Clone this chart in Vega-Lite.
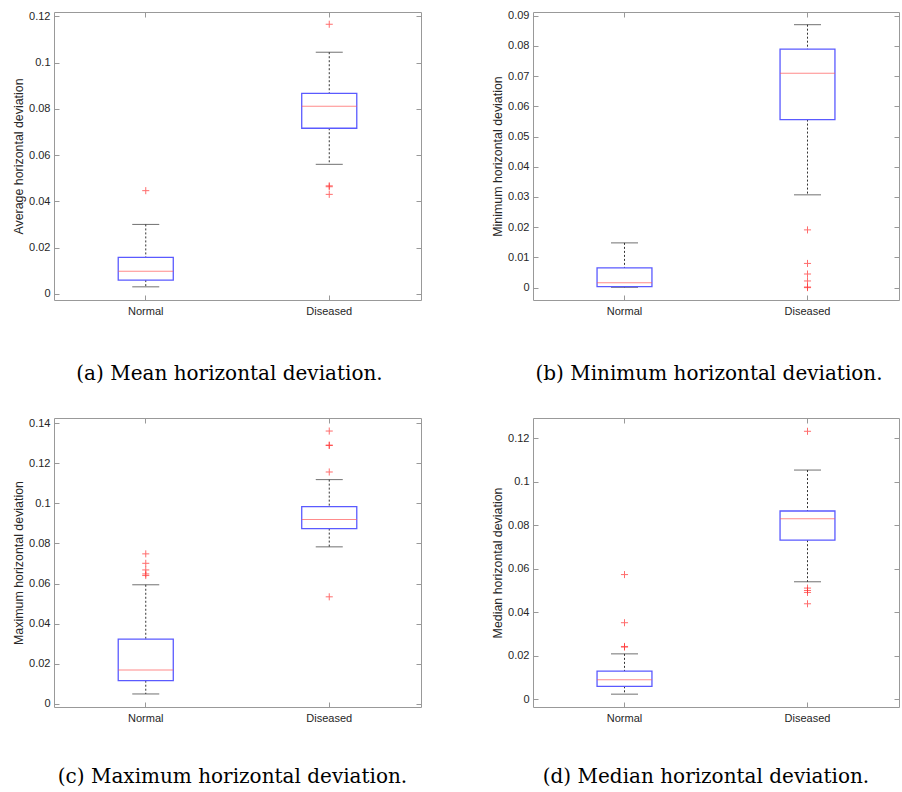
{
  "$schema": "https://vega.github.io/schema/vega-lite/v6.json",
  "padding": {"left": 12, "top": 9, "right": 0, "bottom": 0},
  "datasets": {
    "boxes": [
      {"panel": "a", "group": "Normal", "lw": 0.003, "q1": 0.0059, "med": 0.0097, "q3": 0.0157, "uw": 0.030},
      {"panel": "a", "group": "Diseased", "lw": 0.056, "q1": 0.0716, "med": 0.0811, "q3": 0.0867, "uw": 0.1045},
      {"panel": "b", "group": "Normal", "lw": 0.0001, "q1": 0.0003, "med": 0.0016, "q3": 0.0065, "uw": 0.0148},
      {"panel": "b", "group": "Diseased", "lw": 0.0307, "q1": 0.0556, "med": 0.0709, "q3": 0.0789, "uw": 0.087},
      {"panel": "c", "group": "Normal", "lw": 0.005, "q1": 0.0116, "med": 0.0169, "q3": 0.0323, "uw": 0.0594},
      {"panel": "c", "group": "Diseased", "lw": 0.0783, "q1": 0.0874, "med": 0.0919, "q3": 0.0983, "uw": 0.1118},
      {"panel": "d", "group": "Normal", "lw": 0.0024, "q1": 0.006, "med": 0.009, "q3": 0.013, "uw": 0.0209},
      {"panel": "d", "group": "Diseased", "lw": 0.054, "q1": 0.0731, "med": 0.0829, "q3": 0.0865, "uw": 0.1053}
    ],
    "outliers": [
      {"panel": "a", "group": "Normal", "v": 0.0446},
      {"panel": "a", "group": "Diseased", "v": 0.1166},
      {"panel": "a", "group": "Diseased", "v": 0.0467},
      {"panel": "a", "group": "Diseased", "v": 0.0463},
      {"panel": "a", "group": "Diseased", "v": 0.043},
      {"panel": "b", "group": "Diseased", "v": 0.0191},
      {"panel": "b", "group": "Diseased", "v": 0.008},
      {"panel": "b", "group": "Diseased", "v": 0.0045},
      {"panel": "b", "group": "Diseased", "v": 0.0022},
      {"panel": "b", "group": "Diseased", "v": 0.0002},
      {"panel": "b", "group": "Diseased", "v": 0.0},
      {"panel": "c", "group": "Normal", "v": 0.0748},
      {"panel": "c", "group": "Normal", "v": 0.0701},
      {"panel": "c", "group": "Normal", "v": 0.0668},
      {"panel": "c", "group": "Normal", "v": 0.0648},
      {"panel": "c", "group": "Normal", "v": 0.064},
      {"panel": "c", "group": "Diseased", "v": 0.136},
      {"panel": "c", "group": "Diseased", "v": 0.129},
      {"panel": "c", "group": "Diseased", "v": 0.1288},
      {"panel": "c", "group": "Diseased", "v": 0.1156},
      {"panel": "c", "group": "Diseased", "v": 0.0534},
      {"panel": "d", "group": "Normal", "v": 0.0573},
      {"panel": "d", "group": "Normal", "v": 0.0352},
      {"panel": "d", "group": "Normal", "v": 0.0243},
      {"panel": "d", "group": "Normal", "v": 0.024},
      {"panel": "d", "group": "Diseased", "v": 0.1231},
      {"panel": "d", "group": "Diseased", "v": 0.0511},
      {"panel": "d", "group": "Diseased", "v": 0.050},
      {"panel": "d", "group": "Diseased", "v": 0.0491},
      {"panel": "d", "group": "Diseased", "v": 0.0439}
    ]
  },
  "vconcat": [
    {
      "hconcat": [
        {
          "width": 367, "height": 288,
          "title": {"text": "(a) Mean horizontal deviation.", "dx": -8},
          "resolve": {"axis": {"x": "independent", "y": "independent"}},
          "layer": [
            {
              "data": {"name": "boxes"},
              "transform": [{"filter": "datum.panel == 'a'"}],
              "encoding": {"x": {"field": "group", "type": "nominal", "scale": {"domain": ["Normal", "Diseased"], "paddingInner": 0.7, "paddingOuter": 0.35}, "axis": {"title": null}}},
              "layer": [
                {"mark": {"type": "rule", "strokeDash": [2, 2], "color": "#333333", "strokeWidth": 1}, "encoding": {"y": {"field": "uw", "type": "quantitative", "scale": {"domain": [-0.0027, 0.1219], "nice": false, "zero": false}, "axis": {"title": "Average horizontal deviation", "values": [0, 0.02, 0.04, 0.06, 0.08, 0.1, 0.12], "format": ".2~f"}}, "y2": {"field": "q3"}}},
                {"mark": {"type": "rule", "strokeDash": [2, 2], "color": "#333333", "strokeWidth": 1}, "encoding": {"y": {"field": "q1", "type": "quantitative", "scale": {"domain": [-0.0027, 0.1219], "nice": false, "zero": false}, "axis": {"title": "Average horizontal deviation", "values": [0, 0.02, 0.04, 0.06, 0.08, 0.1, 0.12], "format": ".2~f"}}, "y2": {"field": "lw"}}},
                {"mark": {"type": "tick", "size": 27, "thickness": 1, "color": "#333333"}, "encoding": {"y": {"field": "uw", "type": "quantitative", "scale": {"domain": [-0.0027, 0.1219], "nice": false, "zero": false}, "axis": {"title": "Average horizontal deviation", "values": [0, 0.02, 0.04, 0.06, 0.08, 0.1, 0.12], "format": ".2~f"}}}},
                {"mark": {"type": "tick", "size": 27, "thickness": 1, "color": "#333333"}, "encoding": {"y": {"field": "lw", "type": "quantitative", "scale": {"domain": [-0.0027, 0.1219], "nice": false, "zero": false}, "axis": {"title": "Average horizontal deviation", "values": [0, 0.02, 0.04, 0.06, 0.08, 0.1, 0.12], "format": ".2~f"}}}},
                {"mark": {"type": "bar", "fill": "transparent", "stroke": "#5a5aff", "strokeWidth": 1.3}, "encoding": {"y": {"field": "q1", "type": "quantitative", "scale": {"domain": [-0.0027, 0.1219], "nice": false, "zero": false}, "axis": {"title": "Average horizontal deviation", "values": [0, 0.02, 0.04, 0.06, 0.08, 0.1, 0.12], "format": ".2~f"}}, "y2": {"field": "q3"}}},
                {"mark": {"type": "tick", "size": 55, "thickness": 1, "color": "#ff5a5a"}, "encoding": {"y": {"field": "med", "type": "quantitative", "scale": {"domain": [-0.0027, 0.1219], "nice": false, "zero": false}, "axis": {"title": "Average horizontal deviation", "values": [0, 0.02, 0.04, 0.06, 0.08, 0.1, 0.12], "format": ".2~f"}}}},
                {"data": {"name": "outliers"}, "transform": [{"filter": "datum.panel == 'a'"}], "mark": {"type": "point", "shape": "M-1,0H1M0,-1V1", "size": 50, "stroke": "#ff3030", "strokeWidth": 1, "filled": false}, "encoding": {"y": {"field": "v", "type": "quantitative", "scale": {"domain": [-0.0027, 0.1219], "nice": false, "zero": false}, "axis": {"title": "Average horizontal deviation", "values": [0, 0.02, 0.04, 0.06, 0.08, 0.1, 0.12], "format": ".2~f"}}}}
              ]
            },
            {
              "data": {"name": "boxes"},
              "transform": [{"filter": "datum.panel == 'a'"}],
              "mark": {"type": "point", "opacity": 0},
              "encoding": {
                "x": {"field": "group", "type": "nominal", "scale": {"domain": ["Normal", "Diseased"], "paddingInner": 0.7, "paddingOuter": 0.35}, "axis": {"title": null, "orient": "top", "labels": false}},
                "y": {"field": "uw", "type": "quantitative", "scale": {"domain": [-0.0027, 0.1219], "nice": false, "zero": false}, "axis": {"title": null, "orient": "right", "labels": false, "values": [0, 0.02, 0.04, 0.06, 0.08, 0.1, 0.12]}}
              }
            }
          ]
        },
        {
          "width": 366, "height": 288,
          "title": {"text": "(b) Minimum horizontal deviation.", "dx": -7},
          "resolve": {"axis": {"x": "independent", "y": "independent"}},
          "layer": [
            {
              "data": {"name": "boxes"},
              "transform": [{"filter": "datum.panel == 'b'"}],
              "encoding": {"x": {"field": "group", "type": "nominal", "scale": {"domain": ["Normal", "Diseased"], "paddingInner": 0.7, "paddingOuter": 0.35}, "axis": {"title": null}}},
              "layer": [
                {"mark": {"type": "rule", "strokeDash": [2, 2], "color": "#333333", "strokeWidth": 1}, "encoding": {"y": {"field": "uw", "type": "quantitative", "scale": {"domain": [-0.0041, 0.0912], "nice": false, "zero": false}, "axis": {"title": "Minimum horizontal deviation", "values": [0, 0.01, 0.02, 0.03, 0.04, 0.05, 0.06, 0.07, 0.08, 0.09], "format": ".2~f"}}, "y2": {"field": "q3"}}},
                {"mark": {"type": "rule", "strokeDash": [2, 2], "color": "#333333", "strokeWidth": 1}, "encoding": {"y": {"field": "q1", "type": "quantitative", "scale": {"domain": [-0.0041, 0.0912], "nice": false, "zero": false}, "axis": {"title": "Minimum horizontal deviation", "values": [0, 0.01, 0.02, 0.03, 0.04, 0.05, 0.06, 0.07, 0.08, 0.09], "format": ".2~f"}}, "y2": {"field": "lw"}}},
                {"mark": {"type": "tick", "size": 27, "thickness": 1, "color": "#333333"}, "encoding": {"y": {"field": "uw", "type": "quantitative", "scale": {"domain": [-0.0041, 0.0912], "nice": false, "zero": false}, "axis": {"title": "Minimum horizontal deviation", "values": [0, 0.01, 0.02, 0.03, 0.04, 0.05, 0.06, 0.07, 0.08, 0.09], "format": ".2~f"}}}},
                {"mark": {"type": "tick", "size": 27, "thickness": 1, "color": "#333333"}, "encoding": {"y": {"field": "lw", "type": "quantitative", "scale": {"domain": [-0.0041, 0.0912], "nice": false, "zero": false}, "axis": {"title": "Minimum horizontal deviation", "values": [0, 0.01, 0.02, 0.03, 0.04, 0.05, 0.06, 0.07, 0.08, 0.09], "format": ".2~f"}}}},
                {"mark": {"type": "bar", "fill": "transparent", "stroke": "#5a5aff", "strokeWidth": 1.3}, "encoding": {"y": {"field": "q1", "type": "quantitative", "scale": {"domain": [-0.0041, 0.0912], "nice": false, "zero": false}, "axis": {"title": "Minimum horizontal deviation", "values": [0, 0.01, 0.02, 0.03, 0.04, 0.05, 0.06, 0.07, 0.08, 0.09], "format": ".2~f"}}, "y2": {"field": "q3"}}},
                {"mark": {"type": "tick", "size": 55, "thickness": 1, "color": "#ff5a5a"}, "encoding": {"y": {"field": "med", "type": "quantitative", "scale": {"domain": [-0.0041, 0.0912], "nice": false, "zero": false}, "axis": {"title": "Minimum horizontal deviation", "values": [0, 0.01, 0.02, 0.03, 0.04, 0.05, 0.06, 0.07, 0.08, 0.09], "format": ".2~f"}}}},
                {"data": {"name": "outliers"}, "transform": [{"filter": "datum.panel == 'b'"}], "mark": {"type": "point", "shape": "M-1,0H1M0,-1V1", "size": 50, "stroke": "#ff3030", "strokeWidth": 1, "filled": false}, "encoding": {"y": {"field": "v", "type": "quantitative", "scale": {"domain": [-0.0041, 0.0912], "nice": false, "zero": false}, "axis": {"title": "Minimum horizontal deviation", "values": [0, 0.01, 0.02, 0.03, 0.04, 0.05, 0.06, 0.07, 0.08, 0.09], "format": ".2~f"}}}}
              ]
            },
            {
              "data": {"name": "boxes"},
              "transform": [{"filter": "datum.panel == 'b'"}],
              "mark": {"type": "point", "opacity": 0},
              "encoding": {
                "x": {"field": "group", "type": "nominal", "scale": {"domain": ["Normal", "Diseased"], "paddingInner": 0.7, "paddingOuter": 0.35}, "axis": {"title": null, "orient": "top", "labels": false}},
                "y": {"field": "uw", "type": "quantitative", "scale": {"domain": [-0.0041, 0.0912], "nice": false, "zero": false}, "axis": {"title": null, "orient": "right", "labels": false, "values": [0, 0.01, 0.02, 0.03, 0.04, 0.05, 0.06, 0.07, 0.08, 0.09]}}
              }
            }
          ]
        }
      ],
      "spacing": 112,
      "bounds": "flush"
    },
    {
      "hconcat": [
        {
          "width": 367, "height": 289,
          "title": {"text": "(c) Maximum horizontal deviation.", "dx": -5, "offset": 44},
          "resolve": {"axis": {"x": "independent", "y": "independent"}},
          "layer": [
            {
              "data": {"name": "boxes"},
              "transform": [{"filter": "datum.panel == 'c'"}],
              "encoding": {"x": {"field": "group", "type": "nominal", "scale": {"domain": ["Normal", "Diseased"], "paddingInner": 0.7, "paddingOuter": 0.35}, "axis": {"title": null}}},
              "layer": [
                {"mark": {"type": "rule", "strokeDash": [2, 2], "color": "#333333", "strokeWidth": 1}, "encoding": {"y": {"field": "uw", "type": "quantitative", "scale": {"domain": [-0.0015, 0.1425], "nice": false, "zero": false}, "axis": {"title": "Maximum horizontal deviation", "values": [0, 0.02, 0.04, 0.06, 0.08, 0.1, 0.12, 0.14], "format": ".2~f"}}, "y2": {"field": "q3"}}},
                {"mark": {"type": "rule", "strokeDash": [2, 2], "color": "#333333", "strokeWidth": 1}, "encoding": {"y": {"field": "q1", "type": "quantitative", "scale": {"domain": [-0.0015, 0.1425], "nice": false, "zero": false}, "axis": {"title": "Maximum horizontal deviation", "values": [0, 0.02, 0.04, 0.06, 0.08, 0.1, 0.12, 0.14], "format": ".2~f"}}, "y2": {"field": "lw"}}},
                {"mark": {"type": "tick", "size": 27, "thickness": 1, "color": "#333333"}, "encoding": {"y": {"field": "uw", "type": "quantitative", "scale": {"domain": [-0.0015, 0.1425], "nice": false, "zero": false}, "axis": {"title": "Maximum horizontal deviation", "values": [0, 0.02, 0.04, 0.06, 0.08, 0.1, 0.12, 0.14], "format": ".2~f"}}}},
                {"mark": {"type": "tick", "size": 27, "thickness": 1, "color": "#333333"}, "encoding": {"y": {"field": "lw", "type": "quantitative", "scale": {"domain": [-0.0015, 0.1425], "nice": false, "zero": false}, "axis": {"title": "Maximum horizontal deviation", "values": [0, 0.02, 0.04, 0.06, 0.08, 0.1, 0.12, 0.14], "format": ".2~f"}}}},
                {"mark": {"type": "bar", "fill": "transparent", "stroke": "#5a5aff", "strokeWidth": 1.3}, "encoding": {"y": {"field": "q1", "type": "quantitative", "scale": {"domain": [-0.0015, 0.1425], "nice": false, "zero": false}, "axis": {"title": "Maximum horizontal deviation", "values": [0, 0.02, 0.04, 0.06, 0.08, 0.1, 0.12, 0.14], "format": ".2~f"}}, "y2": {"field": "q3"}}},
                {"mark": {"type": "tick", "size": 55, "thickness": 1, "color": "#ff5a5a"}, "encoding": {"y": {"field": "med", "type": "quantitative", "scale": {"domain": [-0.0015, 0.1425], "nice": false, "zero": false}, "axis": {"title": "Maximum horizontal deviation", "values": [0, 0.02, 0.04, 0.06, 0.08, 0.1, 0.12, 0.14], "format": ".2~f"}}}},
                {"data": {"name": "outliers"}, "transform": [{"filter": "datum.panel == 'c'"}], "mark": {"type": "point", "shape": "M-1,0H1M0,-1V1", "size": 50, "stroke": "#ff3030", "strokeWidth": 1, "filled": false}, "encoding": {"y": {"field": "v", "type": "quantitative", "scale": {"domain": [-0.0015, 0.1425], "nice": false, "zero": false}, "axis": {"title": "Maximum horizontal deviation", "values": [0, 0.02, 0.04, 0.06, 0.08, 0.1, 0.12, 0.14], "format": ".2~f"}}}}
              ]
            },
            {
              "data": {"name": "boxes"},
              "transform": [{"filter": "datum.panel == 'c'"}],
              "mark": {"type": "point", "opacity": 0},
              "encoding": {
                "x": {"field": "group", "type": "nominal", "scale": {"domain": ["Normal", "Diseased"], "paddingInner": 0.7, "paddingOuter": 0.35}, "axis": {"title": null, "orient": "top", "labels": false}},
                "y": {"field": "uw", "type": "quantitative", "scale": {"domain": [-0.0015, 0.1425], "nice": false, "zero": false}, "axis": {"title": null, "orient": "right", "labels": false, "values": [0, 0.02, 0.04, 0.06, 0.08, 0.1, 0.12, 0.14]}}
              }
            }
          ]
        },
        {
          "width": 366, "height": 289,
          "title": {"text": "(d) Median horizontal deviation.", "dx": -10, "offset": 44},
          "resolve": {"axis": {"x": "independent", "y": "independent"}},
          "layer": [
            {
              "data": {"name": "boxes"},
              "transform": [{"filter": "datum.panel == 'd'"}],
              "encoding": {"x": {"field": "group", "type": "nominal", "scale": {"domain": ["Normal", "Diseased"], "paddingInner": 0.7, "paddingOuter": 0.35}, "axis": {"title": null}}},
              "layer": [
                {"mark": {"type": "rule", "strokeDash": [2, 2], "color": "#333333", "strokeWidth": 1}, "encoding": {"y": {"field": "uw", "type": "quantitative", "scale": {"domain": [-0.0035, 0.1292], "nice": false, "zero": false}, "axis": {"title": "Median horizontal deviation", "values": [0, 0.02, 0.04, 0.06, 0.08, 0.1, 0.12], "format": ".2~f"}}, "y2": {"field": "q3"}}},
                {"mark": {"type": "rule", "strokeDash": [2, 2], "color": "#333333", "strokeWidth": 1}, "encoding": {"y": {"field": "q1", "type": "quantitative", "scale": {"domain": [-0.0035, 0.1292], "nice": false, "zero": false}, "axis": {"title": "Median horizontal deviation", "values": [0, 0.02, 0.04, 0.06, 0.08, 0.1, 0.12], "format": ".2~f"}}, "y2": {"field": "lw"}}},
                {"mark": {"type": "tick", "size": 27, "thickness": 1, "color": "#333333"}, "encoding": {"y": {"field": "uw", "type": "quantitative", "scale": {"domain": [-0.0035, 0.1292], "nice": false, "zero": false}, "axis": {"title": "Median horizontal deviation", "values": [0, 0.02, 0.04, 0.06, 0.08, 0.1, 0.12], "format": ".2~f"}}}},
                {"mark": {"type": "tick", "size": 27, "thickness": 1, "color": "#333333"}, "encoding": {"y": {"field": "lw", "type": "quantitative", "scale": {"domain": [-0.0035, 0.1292], "nice": false, "zero": false}, "axis": {"title": "Median horizontal deviation", "values": [0, 0.02, 0.04, 0.06, 0.08, 0.1, 0.12], "format": ".2~f"}}}},
                {"mark": {"type": "bar", "fill": "transparent", "stroke": "#5a5aff", "strokeWidth": 1.3}, "encoding": {"y": {"field": "q1", "type": "quantitative", "scale": {"domain": [-0.0035, 0.1292], "nice": false, "zero": false}, "axis": {"title": "Median horizontal deviation", "values": [0, 0.02, 0.04, 0.06, 0.08, 0.1, 0.12], "format": ".2~f"}}, "y2": {"field": "q3"}}},
                {"mark": {"type": "tick", "size": 55, "thickness": 1, "color": "#ff5a5a"}, "encoding": {"y": {"field": "med", "type": "quantitative", "scale": {"domain": [-0.0035, 0.1292], "nice": false, "zero": false}, "axis": {"title": "Median horizontal deviation", "values": [0, 0.02, 0.04, 0.06, 0.08, 0.1, 0.12], "format": ".2~f"}}}},
                {"data": {"name": "outliers"}, "transform": [{"filter": "datum.panel == 'd'"}], "mark": {"type": "point", "shape": "M-1,0H1M0,-1V1", "size": 50, "stroke": "#ff3030", "strokeWidth": 1, "filled": false}, "encoding": {"y": {"field": "v", "type": "quantitative", "scale": {"domain": [-0.0035, 0.1292], "nice": false, "zero": false}, "axis": {"title": "Median horizontal deviation", "values": [0, 0.02, 0.04, 0.06, 0.08, 0.1, 0.12], "format": ".2~f"}}}}
              ]
            },
            {
              "data": {"name": "boxes"},
              "transform": [{"filter": "datum.panel == 'd'"}],
              "mark": {"type": "point", "opacity": 0},
              "encoding": {
                "x": {"field": "group", "type": "nominal", "scale": {"domain": ["Normal", "Diseased"], "paddingInner": 0.7, "paddingOuter": 0.35}, "axis": {"title": null, "orient": "top", "labels": false}},
                "y": {"field": "uw", "type": "quantitative", "scale": {"domain": [-0.0035, 0.1292], "nice": false, "zero": false}, "axis": {"title": null, "orient": "right", "labels": false, "values": [0, 0.02, 0.04, 0.06, 0.08, 0.1, 0.12]}}
              }
            }
          ]
        }
      ],
      "spacing": 112,
      "bounds": "flush"
    }
  ],
  "spacing": 31,
  "config": {
    "view": {"stroke": "#999999", "strokeWidth": 1},
    "axis": {"labelFont": "Liberation Sans", "labelFontSize": 11, "labelColor": "#262626", "titleFont": "Liberation Sans", "titleFontSize": 12.4, "titleFontWeight": "normal", "titleColor": "#262626", "tickColor": "#999999", "tickSize": -5, "domain": false, "grid": false},
    "axisY": {"labelPadding": 9, "titlePadding": 3},
    "axisX": {"labelPadding": 10, "labelAngle": 0},
    "title": {"orient": "bottom", "font": "DejaVu Serif", "fontSize": 20, "fontWeight": "normal", "color": "#000000", "offset": 48, "anchor": "middle"}
  }
}
